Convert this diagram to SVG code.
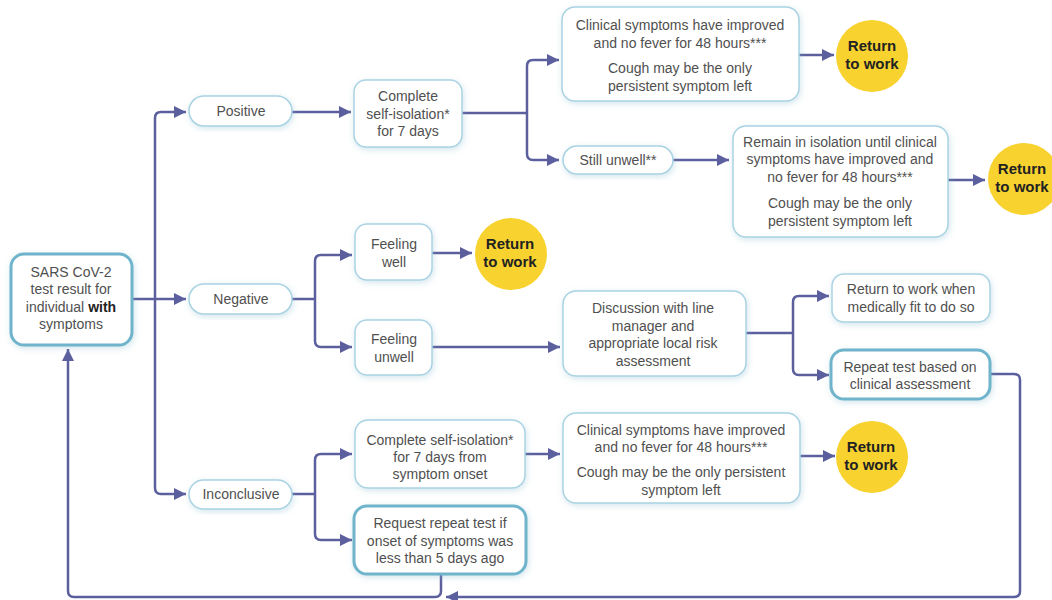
<svg xmlns="http://www.w3.org/2000/svg" width="1052" height="600" viewBox="0 0 1052 600">
<style>
.box{fill:#fff;stroke:#a9d3e2;stroke-width:1.5;filter:url(#sh)}
.thick{fill:#fff;stroke:#6fb4cb;stroke-width:3;filter:url(#sh)}
.circ{fill:#f8d22f}
.t{font-family:"Liberation Sans",Arial,sans-serif;font-size:14px;fill:#505050;text-anchor:middle}
.b{font-family:"Liberation Sans",Arial,sans-serif;font-size:15px;font-weight:bold;fill:#222;text-anchor:middle}
.c{fill:none;stroke:#5b5f9e;stroke-width:2.5}
</style>
<defs>
<filter id="sh" x="-20%" y="-20%" width="140%" height="140%">
<feDropShadow dx="1" dy="2" stdDeviation="3" flood-color="#7fb6cc" flood-opacity="0.35"/>
</filter>
<marker id="a" markerUnits="userSpaceOnUse" markerWidth="12" markerHeight="12" refX="10" refY="5" orient="auto" viewBox="0 0 10 10">
<path d="M0,0 L10,5 L0,10 z" fill="#5b5f9e"/>
</marker>
</defs>
<rect width="1052" height="600" fill="#fff"/>
<g id="connectors">
<path class="c" d="M132,299 H186" marker-end="url(#a)"/>
<path class="c" d="M155,300 V118 Q155,112 161,112 H186" marker-end="url(#a)"/>
<path class="c" d="M155,300 V488 Q155,494 161,494 H186" marker-end="url(#a)"/>
<path class="c" d="M292,112 H351" marker-end="url(#a)"/>
<path class="c" d="M462,113 H527"/>
<path class="c" d="M527,113 V66 Q527,60 533,60 H559" marker-end="url(#a)"/>
<path class="c" d="M527,113 V154 Q527,160 533,160 H559" marker-end="url(#a)"/>
<path class="c" d="M799,55 H834" marker-end="url(#a)"/>
<path class="c" d="M673,160 H729" marker-end="url(#a)"/>
<path class="c" d="M948,180 H985" marker-end="url(#a)"/>
<path class="c" d="M292,299 H315"/>
<path class="c" d="M315,299 V261 Q315,255 321,255 H352" marker-end="url(#a)"/>
<path class="c" d="M315,299 V341 Q315,347 321,347 H352" marker-end="url(#a)"/>
<path class="c" d="M432,253 H472" marker-end="url(#a)"/>
<path class="c" d="M432,347 H560" marker-end="url(#a)"/>
<path class="c" d="M746,333 H793"/>
<path class="c" d="M793,333 V302 Q793,296 799,296 H829" marker-end="url(#a)"/>
<path class="c" d="M793,333 V369 Q793,375 799,375 H829" marker-end="url(#a)"/>
<path class="c" d="M990,374 H1014 Q1020,374 1020,380 V591 Q1020,597 1014,597 H446" marker-end="url(#a)"/>
<path class="c" d="M292,494 H315"/>
<path class="c" d="M315,494 V460 Q315,454 321,454 H352" marker-end="url(#a)"/>
<path class="c" d="M315,494 V534 Q315,540 321,540 H352" marker-end="url(#a)"/>
<path class="c" d="M525,454 H560" marker-end="url(#a)"/>
<path class="c" d="M800,456 H835" marker-end="url(#a)"/>
<path class="c" d="M441,575 V591 Q441,597 435,597 H74 Q68,597 68,591 V349" marker-end="url(#a)"/>
</g>
<g id="sars">
<rect class="thick" x="11" y="254" width="121" height="91" rx="13"/>
<text class="t" x="71" y="277">SARS CoV-2</text>
<text class="t" x="71" y="294">test result for</text>
<text class="t" x="71" y="312">individual <tspan style="font-weight:bold;fill:#222">with</tspan></text>
<text class="t" x="71" y="329">symptoms</text>
</g>
<g id="positive">
<rect class="box" x="189" y="96" width="103" height="30" rx="15"/>
<text class="t" x="241" y="116">Positive</text>
</g>
<g id="negative">
<rect class="box" x="189" y="284" width="103" height="30" rx="15"/>
<text class="t" x="241" y="304">Negative</text>
</g>
<g id="inconclusive">
<rect class="box" x="189" y="480" width="103" height="29" rx="14.5"/>
<text class="t" x="241" y="499">Inconclusive</text>
</g>
<g id="selfiso7">
<rect class="box" x="354" y="80" width="108" height="67" rx="12"/>
<text class="t" x="408" y="101">Complete</text>
<text class="t" x="408" y="119">self-isolation*</text>
<text class="t" x="408" y="136">for 7 days</text>
</g>
<g id="clinical1">
<rect class="box" x="562" y="7" width="237" height="94" rx="13"/>
<text class="t" x="680" y="30">Clinical symptoms have improved</text>
<text class="t" x="680" y="48">and no fever for 48 hours***</text>
<text class="t" x="680" y="73">Cough may be the only</text>
<text class="t" x="680" y="91">persistent symptom left</text>
</g>
<g id="rtw1">
<circle class="circ" cx="872" cy="56" r="36"/>
<text class="b" x="872" y="51">Return</text>
<text class="b" x="872" y="69">to work</text>
</g>
<g id="stillunwell">
<rect class="box" x="563" y="146" width="110" height="28" rx="14"/>
<text class="t" x="618" y="165">Still unwell**</text>
</g>
<g id="remain">
<rect class="box" x="733" y="126" width="215" height="111" rx="13"/>
<text class="t" x="840" y="147">Remain in isolation until clinical</text>
<text class="t" x="840" y="164">symptoms have improved and</text>
<text class="t" x="840" y="182">no fever for 48 hours***</text>
<text class="t" x="840" y="208">Cough may be the only</text>
<text class="t" x="840" y="226">persistent symptom left</text>
</g>
<g id="rtw2">
<circle class="circ" cx="1024" cy="179" r="36"/>
<text class="b" x="1022" y="174">Return</text>
<text class="b" x="1022" y="192">to work</text>
</g>
<g id="feelingwell">
<rect class="box" x="355" y="224" width="77" height="56" rx="12"/>
<text class="t" x="394" y="249">Feeling</text>
<text class="t" x="394" y="267">well</text>
</g>
<g id="rtw3">
<circle class="circ" cx="511" cy="254" r="36"/>
<text class="b" x="510" y="249">Return</text>
<text class="b" x="510" y="267">to work</text>
</g>
<g id="feelingunwell">
<rect class="box" x="355" y="320" width="77" height="55" rx="12"/>
<text class="t" x="394" y="344">Feeling</text>
<text class="t" x="394" y="362">unwell</text>
</g>
<g id="discussion">
<rect class="box" x="563" y="291" width="183" height="85" rx="13"/>
<text class="t" x="653" y="313">Discussion with line</text>
<text class="t" x="653" y="331">manager and</text>
<text class="t" x="653" y="348">appropriate local risk</text>
<text class="t" x="653" y="366">assessment</text>
</g>
<g id="rtwwhenfit">
<rect class="box" x="832" y="274" width="158" height="48" rx="12"/>
<text class="t" x="911" y="294">Return to work when</text>
<text class="t" x="911" y="312">medically fit to do so</text>
</g>
<g id="repeattest">
<rect class="thick" x="831" y="350" width="159" height="49" rx="13"/>
<text class="t" x="910" y="372">Repeat test based on</text>
<text class="t" x="910" y="389">clinical assessment</text>
</g>
<g id="selfiso7onset">
<rect class="box" x="355" y="420" width="170" height="68" rx="13"/>
<text class="t" x="440" y="445">Complete self-isolation*</text>
<text class="t" x="440" y="462">for 7 days from</text>
<text class="t" x="440" y="479">symptom onset</text>
</g>
<g id="clinical2">
<rect class="box" x="563" y="413" width="237" height="90" rx="13"/>
<text class="t" x="681" y="435">Clinical symptoms have improved</text>
<text class="t" x="681" y="452">and no fever for 48 hours***</text>
<text class="t" x="681" y="477">Cough may be the only persistent</text>
<text class="t" x="681" y="495">symptom left</text>
</g>
<g id="rtw4">
<circle class="circ" cx="872" cy="457" r="36"/>
<text class="b" x="871" y="452">Return</text>
<text class="b" x="871" y="470">to work</text>
</g>
<g id="requestrepeat">
<rect class="thick" x="354" y="506" width="172" height="68" rx="13"/>
<text class="t" x="440" y="528">Request repeat test if</text>
<text class="t" x="440" y="546">onset of symptoms was</text>
<text class="t" x="440" y="563">less than 5 days ago</text>
</g>
</svg>
